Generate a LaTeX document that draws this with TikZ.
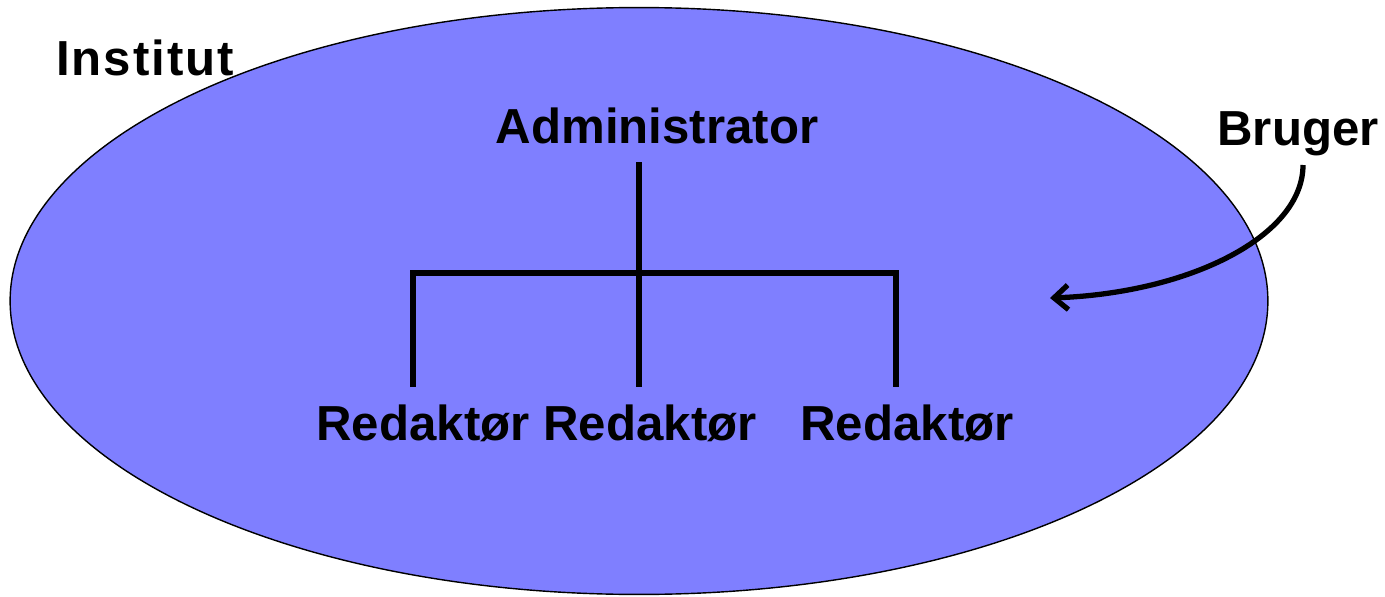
\documentclass[tikz,border=0pt]{standalone}
\usepackage{fontspec}
\setmainfont{Liberation Sans}
\usetikzlibrary{arrows.meta}
\definecolor{instblue}{HTML}{7F7FFF}
\begin{document}
\begin{tikzpicture}[x=0.02cm,y=0.02cm,line width=3pt,
                    >={Straight Barb[length=8pt,width=14pt]}]

  \tikzstyle{every node}=[inner sep=0pt,anchor=base,
                          font=\fontsize{28}{32}\selectfont\bfseries]

  \useasboundingbox (0,0) rectangle (1385,596);
  \filldraw[fill=instblue,draw=black,line width=0.8pt]
    (639,295) ellipse (12.58cm and 5.87cm);

  \node (institut) at (145,520) {\addfontfeature{LetterSpace=4}Institut};
  \node (admin)    at (657,453) {Administrator};
  \node (bruger)   at (1298,451) {Bruger};
  \node (red1)     at (423,156) {Redaktør};
  \node (red2)     at (650,156) {Redaktør};
  \node (red3)     at (907,156) {Redaktør};

  \coordinate (top) at (639,434);
  \coordinate (hub) at (639,323);
  \coordinate (e1)  at (413,209);
  \coordinate (e2)  at (639,209);
  \coordinate (e3)  at (896,209);
  \coordinate (tip) at (1050,298);
  \coordinate (from) at (1303,431);

  \draw (top) -- (e2);
  \draw (e1) |- (hub) -| (e3);
  \draw[->] (from) .. controls (1303,360) and (1190,303) .. (tip);
\end{tikzpicture}
\end{document}
